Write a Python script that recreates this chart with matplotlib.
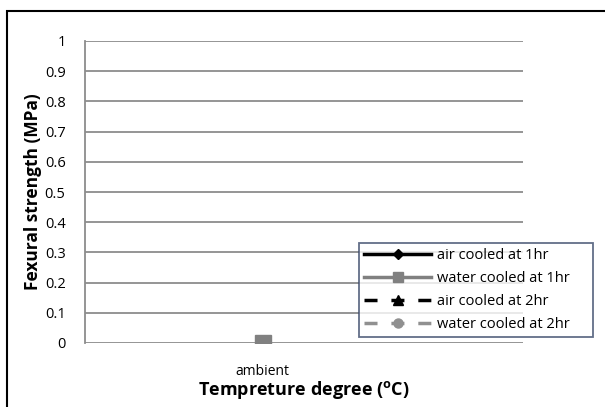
import matplotlib.pyplot as plt
from matplotlib.patches import Rectangle

plt.rcParams['font.family'] = ['Open Sans', 'DejaVu Sans']

categories = ['ambient']
air_1hr = [0]
water_1hr = [0]
air_2hr = [0]
water_2hr = [0]
series_names = ['air cooled at 1hr', 'water cooled at 1hr',
                'air cooled at 2hr', 'water cooled at 2hr']
y_ticks = [0, 0.1, 0.2, 0.3, 0.4, 0.5, 0.6, 0.7, 0.8, 0.9, 1]

fig = plt.figure(figsize=(6.05, 4.07), dpi=100)
ax = fig.add_axes([85 / 605, 1 - 343 / 407, (523 - 85) / 605, (343 - 41) / 407])

# outer chart frame (right and bottom edges run off the image)
fig.patches.append(Rectangle((7 / 605, -0.02), 1.2, 1 - 11 / 407 + 0.02,
                             transform=fig.transFigure, fill=False,
                             edgecolor='black', linewidth=1.5))

dashed = (0, (3.75, 4))
x = list(range(len(categories)))
ax.plot(x, air_1hr, color='black', linestyle='-', linewidth=2.5,
        marker='D', markersize=8, label=series_names[0], zorder=3)
ax.plot(x, air_2hr, color='black', linestyle=dashed, linewidth=2.5,
        marker='^', markersize=10, label=series_names[2], zorder=3)
ax.plot(x, water_2hr, color='#909090', linestyle=dashed, linewidth=2.5,
        marker='o', markersize=10, label=series_names[3], zorder=3)
ax.plot(x, water_1hr, color='#808080', linestyle='-', linewidth=2.5,
        marker='s', markersize=11, label=series_names[1], zorder=4)

ax.set_ylim(0, 1)
ax.set_xlim(-0.406, 0.594)
ax.set_yticks(y_ticks)
ax.set_yticklabels([f'{v:g}' for v in y_ticks], fontsize=10.5)
ax.set_xticks(x)
ax.set_xticklabels(categories, fontsize=10)
ax.tick_params(axis='y', length=0, pad=14)
ax.tick_params(axis='x', length=0, pad=15)
ax.grid(axis='y', color='#8c8c8c', linewidth=1.3)
ax.set_axisbelow(True)
for side in ['top', 'right', 'bottom']:
    ax.spines[side].set_visible(False)
ax.spines['left'].set_color('#8c8c8c')
ax.spines['left'].set_linewidth(1.3)

ax.set_ylabel('Fexural strength (MPa)', fontsize=12.5, fontweight='bold', labelpad=2)
ax.set_xlabel(r'Tempreture degree ($^{\mathregular{o}}$C)', fontsize=13,
              fontweight='bold', labelpad=0)

handles, labels = ax.get_legend_handles_labels()
order = [0, 3, 1, 2]
leg = fig.legend([handles[i] for i in order], [labels[i] for i in order],
                 loc='lower left', bbox_to_anchor=(359 / 605, 1 - 337 / 407,
                                                   (593 - 359) / 605, (337 - 230) / 407),
                 mode='expand', fontsize=10.5, frameon=True, fancybox=False,
                 handlelength=4.6, handletextpad=0.4, borderaxespad=0,
                 labelspacing=0.55, borderpad=0.35, markerscale=0.65)
leg.get_frame().set_edgecolor('#3b4a6b')
leg.get_frame().set_linewidth(1.3)

fig.savefig('out.png', dpi=100)
